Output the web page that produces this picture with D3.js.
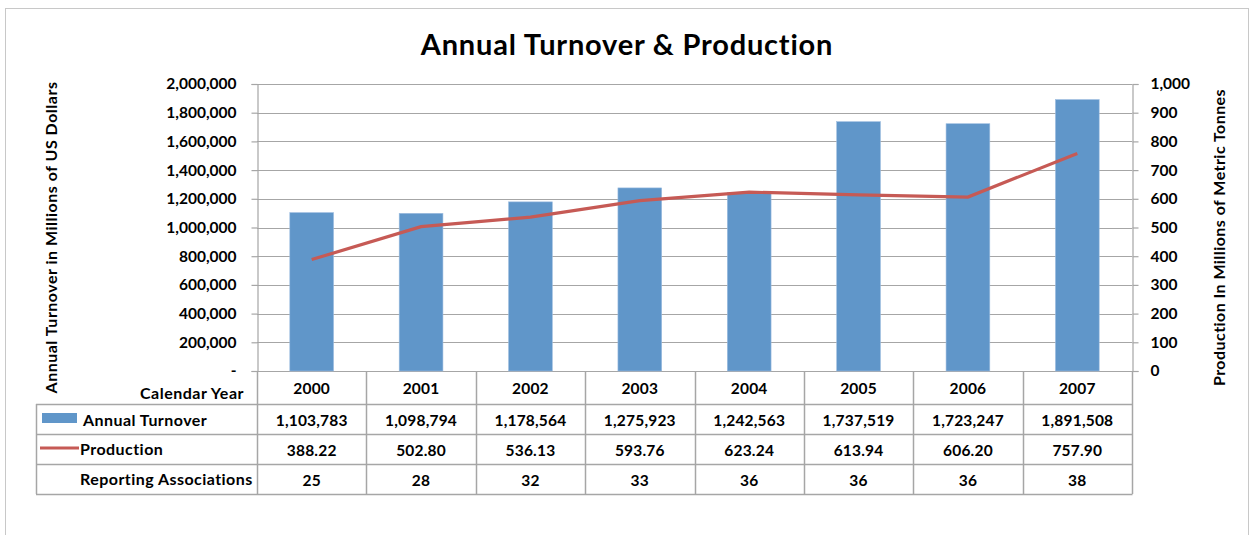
<!DOCTYPE html>
<html lang="en">
<head>
<meta charset="UTF-8">
<title>Annual Turnover & Production</title>
<script src="https://d3js.org/d3.v7.min.js"></script>
<style>
    body { margin: 0; padding: 0; background: white; }
    svg { display: block; font-family: Lato, "Open Sans", sans-serif; font-weight: bold; }
</style>
</head>
<body>
<div id="chart"></div>
<script>
    // data
    const years = ["2000", "2001", "2002", "2003", "2004", "2005", "2006", "2007"];
    const turnover = [1103783, 1098794, 1178564, 1275923, 1242563, 1737519, 1723247, 1891508];
    const production = [388.22, 502.80, 536.13, 593.76, 623.24, 613.94, 606.20, 757.90];
    const associations = [25, 28, 32, 33, 36, 36, 36, 38];

    const width = 1254, height = 535;
    const plot = { left: 257, right: 1132, top: 84, bottom: 371 };
    const rowH = 30, tableTop = 404, tableLeft = 36;
    const barColor = "#6096c9", lineColor = "#c65a55", gridColor = "#a6a6a6";

    const svg = d3.select("#chart").append("svg")
        .attr("width", width).attr("height", height);

    // outer frame
    svg.append("rect")
        .attr("x", 5.5).attr("y", 8.5).attr("width", 1243).attr("height", 540)
        .attr("fill", "none").attr("stroke", "#c8c8c8");

    svg.append("text")
        .attr("x", 627).attr("y", 55)
        .attr("text-anchor", "middle")
        .style("font-size", "29px")
        .style("letter-spacing", "0.8px")
        .text("Annual Turnover & Production");

    const x = d3.scaleBand().domain(years).range([plot.left, plot.right]);
    const yL = d3.scaleLinear().domain([0, 2000000]).range([plot.bottom, plot.top]);
    const yR = d3.scaleLinear().domain([0, 1000]).range([plot.bottom, plot.top]);

    // gridlines
    svg.append("g").selectAll("line")
        .data(yL.ticks(10))
        .join("line")
        .attr("x1", plot.left).attr("x2", plot.right)
        .attr("y1", d => Math.round(yL(d)) + 0.5).attr("y2", d => Math.round(yL(d)) + 0.5)
        .attr("stroke", gridColor).attr("stroke-width", 1.2);

    // bars
    const bw = x.bandwidth() * 0.4;
    svg.append("g").selectAll("rect")
        .data(years)
        .join("rect")
        .attr("x", (d, i) => x(d) + (x.bandwidth() - bw) / 2)
        .attr("y", (d, i) => yL(turnover[i]))
        .attr("width", bw)
        .attr("height", (d, i) => yL(0) - yL(turnover[i]))
        .attr("fill", barColor)
        .attr("stroke", "#9dbde0").attr("stroke-width", 0.6);

    // axes
    const leftAxis = svg.append("g")
        .attr("transform", `translate(${plot.left + 0.5},0)`)
        .call(d3.axisLeft(yL).ticks(10).tickSize(6).tickPadding(15)
            .tickFormat(d => d === 0 ? "-" : d3.format(",")(d)));
    const rightAxis = svg.append("g")
        .attr("transform", `translate(${plot.right + 0.5},0)`)
        .call(d3.axisRight(yR).ticks(10).tickSize(6).tickPadding(12)
            .tickFormat(d3.format(",")));
    [leftAxis, rightAxis].forEach(a => {
        a.select(".domain").attr("stroke", gridColor).attr("stroke-width", 1.2);
        a.selectAll(".tick line").attr("stroke", gridColor).attr("stroke-width", 1.2);
        a.selectAll(".tick text").attr("fill", "#000")
            .style("font-size", "15.5px").style("font-family", "Lato, sans-serif").style("font-weight", "bold");
    });

    // production line
    const line = d3.line()
        .x((d, i) => x(years[i]) + x.bandwidth() / 2)
        .y(d => yR(d));
    svg.append("path")
        .datum(production)
        .attr("d", line)
        .attr("fill", "none")
        .attr("stroke", lineColor)
        .attr("stroke-width", 3.2);

    // axis titles
    svg.append("text")
        .attr("transform", `translate(57,${(plot.top + plot.bottom) / 2 + 10}) rotate(-90)`)
        .attr("text-anchor", "middle")
        .style("font-size", "16px")
        .style("letter-spacing", "0.5px")
        .text("Annual Turnover in Millions of US Dollars");
    svg.append("text")
        .attr("transform", `translate(1225,${(plot.top + plot.bottom) / 2 + 10}) rotate(-90)`)
        .attr("text-anchor", "middle")
        .style("font-size", "16px")
        .style("letter-spacing", "0.45px")
        .text("Production In Millions of Metric Tonnes");

    // data table
    const table = svg.append("g");
    const tableBottom = tableTop + rowH * 3;
    const lineAttrs = sel => sel.attr("stroke", gridColor).attr("stroke-width", 1.5).attr("fill", "none");

    // vertical category lines (from axis down through table)
    const bounds = years.map(d => x(d)).concat([plot.right]);
    table.selectAll("line.v")
        .data(bounds)
        .join("line")
        .attr("class", "v")
        .attr("x1", d => Math.round(d) + 0.5).attr("x2", d => Math.round(d) + 0.5)
        .attr("y1", plot.bottom).attr("y2", tableBottom)
        .call(lineAttrs);
    // horizontal rows
    table.selectAll("line.h")
        .data([tableTop, tableTop + rowH, tableTop + rowH * 2, tableBottom])
        .join("line")
        .attr("class", "h")
        .attr("x1", tableLeft).attr("x2", plot.right + 0.5)
        .attr("y1", d => d + 0.5).attr("y2", d => d + 0.5)
        .call(lineAttrs);
    table.append("line")
        .attr("x1", tableLeft + 0.5).attr("x2", tableLeft + 0.5)
        .attr("y1", tableTop).attr("y2", tableBottom)
        .call(lineAttrs);

    const cx = d => x(d) + x.bandwidth() / 2;
    const cellText = (vals, yc, fmt) => table.append("g").selectAll("text")
        .data(vals)
        .join("text")
        .attr("x", (d, i) => cx(years[i]))
        .attr("y", yc)
        .attr("dy", "0.35em")
        .attr("text-anchor", "middle")
        .style("font-size", "15.5px")
        .style("letter-spacing", "0.2px")
        .text(fmt);

    cellText(years, 389, d => d);
    cellText(turnover, tableTop + 17, d3.format(","));
    cellText(production, tableTop + rowH + 17, d3.format(".2f"));
    cellText(associations, tableTop + rowH * 2 + 17, d => d);

    table.append("text")
        .attr("x", 244).attr("y", 393).attr("dy", "0.35em")
        .attr("text-anchor", "end").style("font-size", "16px")
        .style("letter-spacing", "0.5px")
        .text("Calendar Year");

    const rowLabels = ["Annual Turnover", "Production", "Reporting Associations"];
    const rowLabelX = [83, 80, 80];
    const rowLabelY = [tableTop + 16, tableTop + rowH + 15, tableTop + rowH * 2 + 15];
    table.append("g").selectAll("text")
        .data(rowLabels)
        .join("text")
        .attr("x", (d, i) => rowLabelX[i])
        .attr("y", (d, i) => rowLabelY[i])
        .attr("dy", "0.35em")
        .style("font-size", "16px")
        .style("letter-spacing", "0.45px")
        .text(d => d);

    // legend keys
    table.append("rect")
        .attr("x", 42).attr("y", 413).attr("width", 35).attr("height", 10)
        .attr("fill", barColor);
    table.append("line")
        .attr("x1", 40).attr("x2", 79)
        .attr("y1", 448).attr("y2", 448)
        .attr("stroke", lineColor).attr("stroke-width", 3.2);
</script>
</body>
</html>
